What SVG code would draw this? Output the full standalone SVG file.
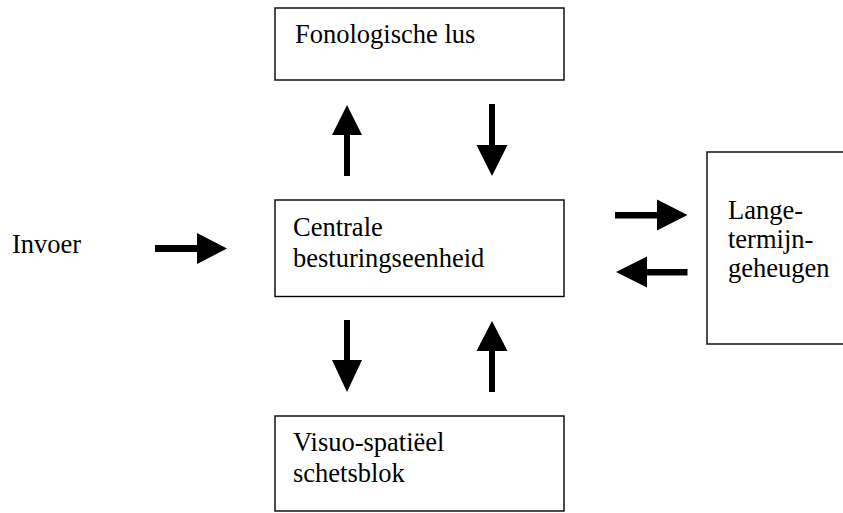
<svg xmlns="http://www.w3.org/2000/svg" width="843" height="513" viewBox="0 0 843 513">
<style>
.box{fill:#fff;stroke:#000;stroke-width:1.4}
.t{font-family:"Liberation Serif","Times New Roman",serif;font-size:26.5px;fill:#000}
.arr{fill:#000;stroke:none}
</style>
<rect width="843" height="513" fill="#fff"/>
<g id="fonologische-lus">
<rect class="box" x="275" y="8" width="289" height="72"/>
<text class="t" x="295" y="43">Fonologische lus</text>
</g>
<g id="centrale">
<rect class="box" x="275" y="200" width="289" height="96.5"/>
<text class="t" x="293" y="236">Centrale</text>
<text class="t" x="293" y="267">besturingseenheid</text>
</g>
<g id="visuo">
<rect class="box" x="275" y="416" width="289" height="95"/>
<text class="t" x="293" y="451">Visuo-spatiëel</text>
<text class="t" x="293" y="482">schetsblok</text>
</g>
<g id="langetermijn">
<rect class="box" x="707" y="152" width="150" height="192"/>
<text class="t" x="728" y="219">Lange-</text>
<text class="t" x="728" y="248">termijn-</text>
<text class="t" x="728" y="277">geheugen</text>
</g>
<g id="invoer">
<text class="t" x="12" y="253">Invoer</text>
</g>
<g id="connectors">
<path class="arr" d="M155,245 H197 V233 L227,248.5 L197,264 V252 H155 Z"/>
<path class="arr" d="M344,176 V135 H332 L347,105 L362,135 H350 V176 Z"/>
<path class="arr" d="M489,104 V145 H476.5 L492,176 L507.5,145 H495 V104 Z"/>
<path class="arr" d="M344,320 V360 H332 L347,392 L362,360 H350 V320 Z"/>
<path class="arr" d="M489,392 V351 H476.5 L492,321 L507.5,351 H495 V392 Z"/>
<path class="arr" d="M615,212 H657 V199.5 L687.5,215 L657,230.5 V218.5 H615 Z"/>
<path class="arr" d="M687.5,269 H647 V256.5 L616,272 L647,287.5 V275.5 H687.5 Z"/>
</g>
</svg>
